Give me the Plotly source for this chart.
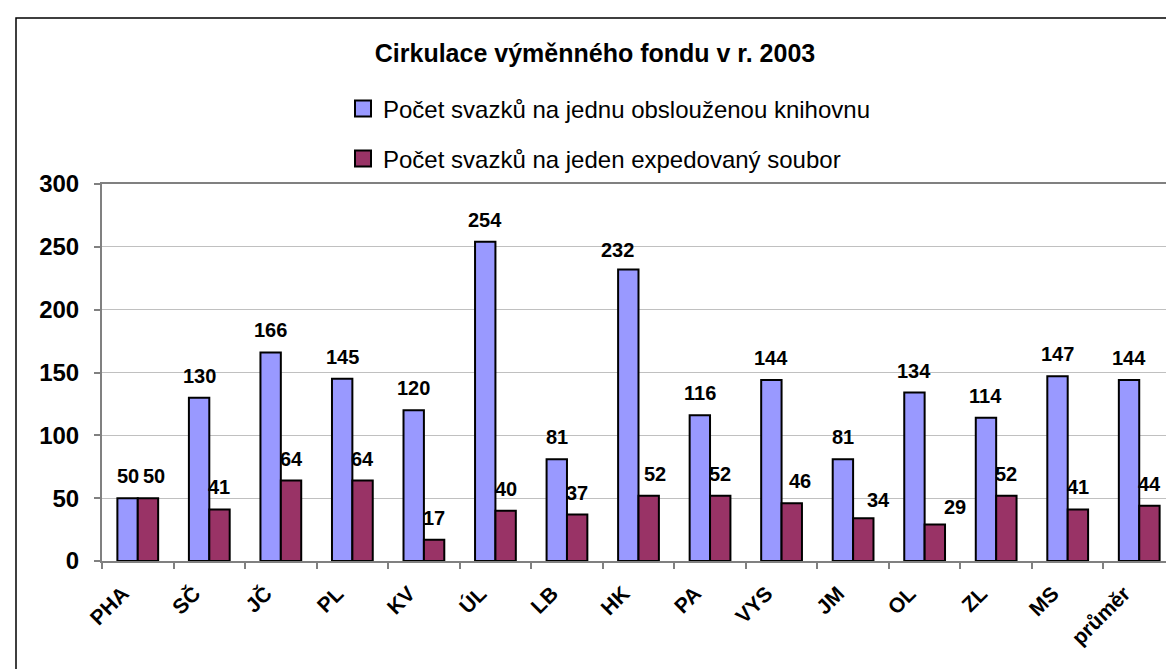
import plotly.graph_objects as go

# ---- data ----
categories = ["PHA", "SČ", "JČ", "PL", "KV", "ÚL", "LB", "HK", "PA", "VYS", "JM", "OL", "ZL", "MS", "průměr"]
per_library = [50, 130, 166, 145, 120, 254, 81, 232, 116, 144, 81, 134, 114, 147, 144]
per_set = [50, 41, 64, 64, 17, 40, 37, 52, 52, 46, 34, 29, 52, 41, 44]
series_names = ["Počet svazků na jednu obslouženou knihovnu",
                "Počet svazků na jeden expedovaný soubor"]
title_text = "Cirkulace výměnného fondu v r. 2003"
y_ticks = [0, 50, 100, 150, 200, 250, 300]

# ---- layout constants ----
W, H = 1174, 669
ML, MR, MT, MB = 94, 7, 176, 116
BARGAP = 0.43
FONT = "Liberation Sans, Arial, sans-serif"
BLUE = "#9999FF"
MAROON = "#993366"

plot_w = W - ML - MR
plot_h = H - MT - MB
cat_w = plot_w / len(categories)
bar_w = cat_w * (1 - BARGAP) / 2

# manual label nudges (px), as in the original chart
nudge_blue = {"HK": (-11, -3)}
nudge_set = {"PHA": (6, 0), "HK": (6, 0), "VYS": (8, 0), "JM": (15, -4), "OL": (20, -4)}

fig = go.Figure()
fig.add_trace(go.Bar(x=categories, y=per_library, name=series_names[0],
                     marker=dict(color=BLUE, line=dict(color="black", width=2)),
                     showlegend=False))
fig.add_trace(go.Bar(x=categories, y=per_set, name=series_names[1],
                     marker=dict(color=MAROON, line=dict(color="black", width=2)),
                     showlegend=False))

# legend proxies (larger square symbols)
fig.add_trace(go.Scatter(x=[None], y=[None], mode="markers", name=series_names[0],
                         marker=dict(symbol="square", size=16, color=BLUE,
                                     line=dict(color="black", width=2)),
                         legend="legend"))
fig.add_trace(go.Scatter(x=[None], y=[None], mode="markers", name=series_names[1],
                         marker=dict(symbol="square", size=16, color=MAROON,
                                     line=dict(color="black", width=2)),
                         legend="legend2"))

annotations = []
for cat, v in zip(categories, per_library):
    dx, dy = nudge_blue.get(cat, (0, 0))
    annotations.append(dict(x=cat, y=v, xref="x", yref="y", text=str(v), showarrow=False,
                            xshift=-bar_w / 2 + dx, yshift=22 + dy, yanchor="middle",
                            font=dict(family=FONT, size=20, color="black", weight="bold")))
for cat, v in zip(categories, per_set):
    dx, dy = nudge_set.get(cat, (0, 0))
    annotations.append(dict(x=cat, y=v, xref="x", yref="y", text=str(v), showarrow=False,
                            xshift=bar_w / 2 + dx, yshift=22 + dy, yanchor="middle",
                            font=dict(family=FONT, size=20, color="black", weight="bold")))


def px_x(p):
    return (p - ML) / plot_w


def px_y(p):
    return (H - MB - p) / plot_h


legend_common = dict(xref="container", yref="container", xanchor="left", yanchor="middle",
                     font=dict(family=FONT, size=24, color="black"),
                     bgcolor="rgba(0,0,0,0)", borderwidth=0, itemwidth=30)

fig.update_layout(
    width=W, height=H,
    margin=dict(l=ML, r=MR, t=MT, b=MB, autoexpand=False),
    paper_bgcolor="white", plot_bgcolor="white",
    barmode="group", bargap=BARGAP, bargroupgap=0,
    title=dict(text=title_text, x=0.5, xref="container", y=1 - 45 / H, yref="container",
               xanchor="center", yanchor="middle",
               font=dict(family=FONT, size=25, color="black", weight="bold")),
    legend=dict(x=335 / W, y=1 - 101 / H, **legend_common),
    legend2=dict(x=335 / W, y=1 - 151 / H, **legend_common),
    xaxis=dict(type="category", tickangle=-45, tickson="boundaries", ticks="outside",
               ticklen=6, tickwidth=1.5, tickcolor="#808080",
               ticklabelshift=-15, ticklabelstandoff=10,
               showline=True, linecolor="#808080", linewidth=2, mirror=True,
               showgrid=False, automargin=False,
               tickfont=dict(family=FONT, size=21, color="black", weight="bold")),
    yaxis=dict(range=[0, 300], tickvals=y_ticks, ticks="outside", ticklen=6,
               tickwidth=1.5, tickcolor="#808080", ticklabelstandoff=10,
               showline=True, linecolor="#808080", linewidth=2, mirror=True,
               showgrid=True, gridcolor="#c0c0c0", gridwidth=1, zeroline=False,
               automargin=False,
               tickfont=dict(family=FONT, size=24, color="black", weight="bold")),
    annotations=annotations,
    shapes=[dict(type="rect", xref="paper", yref="paper",
                 x0=px_x(8), x1=px_x(1190), y0=px_y(690), y1=px_y(10),
                 line=dict(color="black", width=1.5), layer="below")],
)

fig.write_html("out.html")
